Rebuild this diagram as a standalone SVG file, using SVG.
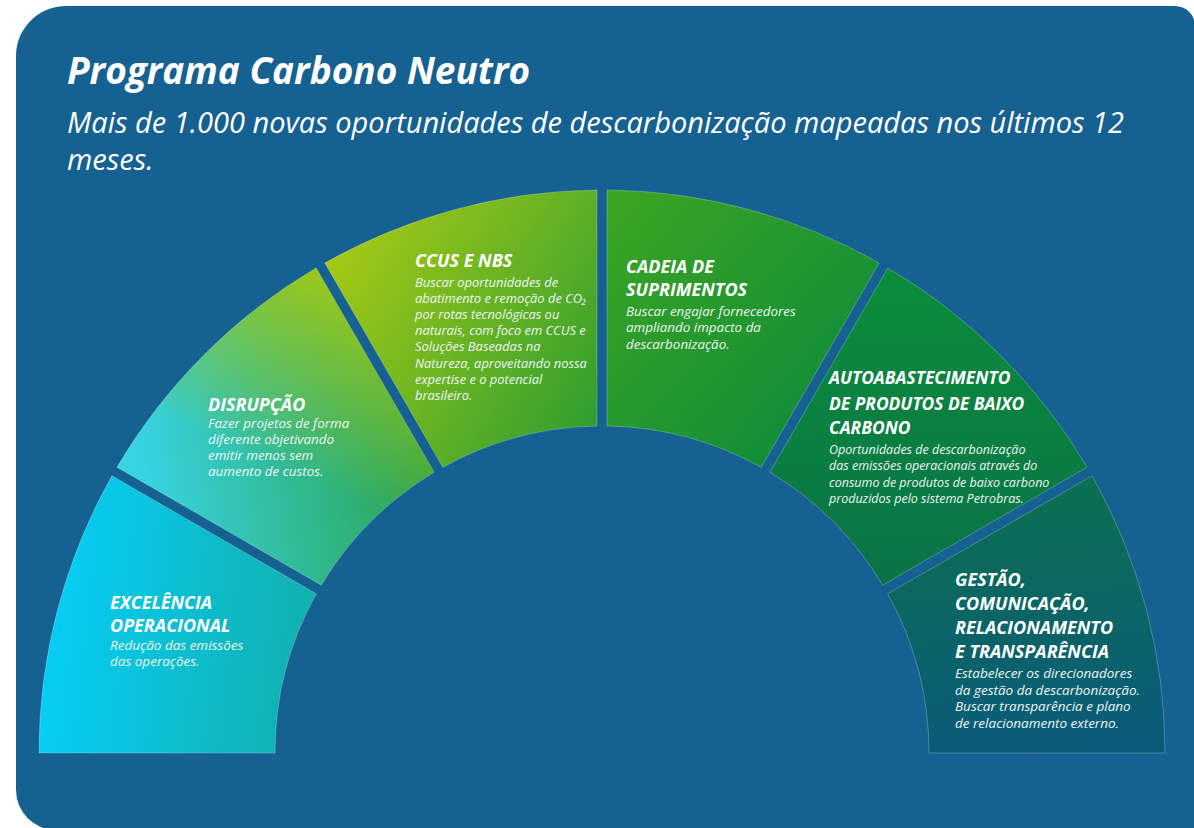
<svg xmlns="http://www.w3.org/2000/svg" width="1194" height="828" viewBox="0 0 1194 828">
<defs>
<style>
.title{font-family:"Open Sans","Liberation Sans",sans-serif;font-weight:700;font-style:italic;font-size:37px;fill:#ffffff}
.sub{font-family:"Open Sans","Liberation Sans",sans-serif;font-style:italic;font-size:29px;fill:#ffffff}
.hd{font-family:"Open Sans","Liberation Sans",sans-serif;font-weight:700;font-style:italic;font-size:18px;fill:#ffffff}
.bd{font-family:"Open Sans","Liberation Sans",sans-serif;font-style:italic;font-size:13.4px;fill:#eef7f4}
.seg{stroke:#ffffff;stroke-opacity:0.3;stroke-width:0.8}
</style>
<linearGradient id="g1" gradientUnits="userSpaceOnUse" x1="39" y1="700" x2="320" y2="730"><stop offset="0" stop-color="#06cdf6"/><stop offset="1" stop-color="#12aea8"/></linearGradient>
<linearGradient id="g2" gradientUnits="userSpaceOnUse" x1="140" y1="500" x2="430" y2="450"><stop offset="0" stop-color="#38d4e6"/><stop offset="1" stop-color="#2aa148"/></linearGradient>
<linearGradient id="g2b" gradientUnits="userSpaceOnUse" x1="320" y1="265" x2="240" y2="450"><stop offset="0" stop-color="#9ec819" stop-opacity="1"/><stop offset="1" stop-color="#9ec819" stop-opacity="0"/></linearGradient>
<linearGradient id="g3" gradientUnits="userSpaceOnUse" x1="330" y1="265" x2="597" y2="430"><stop offset="0" stop-color="#a3c816"/><stop offset="1" stop-color="#2e9e30"/></linearGradient>
<linearGradient id="g4" gradientUnits="userSpaceOnUse" x1="607" y1="200" x2="870" y2="430"><stop offset="0" stop-color="#3ca522"/><stop offset="1" stop-color="#0b893c"/></linearGradient>
<linearGradient id="g5" gradientUnits="userSpaceOnUse" x1="890" y1="270" x2="900" y2="590"><stop offset="0" stop-color="#0b8d3b"/><stop offset="1" stop-color="#0a7248"/></linearGradient>
<linearGradient id="g6" gradientUnits="userSpaceOnUse" x1="1000" y1="480" x2="1020" y2="753"><stop offset="0" stop-color="#0b7050"/><stop offset="1" stop-color="#0b5a7a"/></linearGradient>
</defs>

<path id="background" d="M66,6 H1175 A20,20 0 0 1 1195,26 V830 H56 A40,40 0 0 1 16,790 V56 A50,50 0 0 1 66,6 Z" fill="#156192"/>

<g id="header">
<text class="title" x="67" y="84">Programa Carbono Neutro</text>
<text class="sub" x="67" y="133">Mais de 1.000 novas oportunidades de descarbonização mapeadas nos últimos 12</text>
<text class="sub" x="67" y="170">meses.</text>
</g>

<g id="excelencia">
<path class="seg" d="M39,753 A563,563 0 0 1 111.93,475.83 L316.31,593.83 A327,327 0 0 0 275,753 Z" fill="url(#g1)"/>
<text class="hd" x="110" y="609">EXCELÊNCIA</text>
<text class="hd" x="110" y="632">OPERACIONAL</text>
<text class="bd" x="110" y="650" style="font-size:13.5px">Redução das emissões</text>
<text class="bd" x="110" y="666" style="font-size:13.5px">das operações.</text>
</g>

<g id="disrupcao">
<path class="seg" d="M116.93,467.17 A563,563 0 0 1 316.17,267.93 L434.17,472.31 A327,327 0 0 0 321.31,585.17 Z" fill="url(#g2)"/>
<path d="M116.93,467.17 A563,563 0 0 1 316.17,267.93 L434.17,472.31 A327,327 0 0 0 321.31,585.17 Z" fill="url(#g2b)"/>
<text class="hd" x="208" y="411">DISRUPÇÃO</text>
<text class="bd" x="208" y="428">Fazer projetos de forma</text>
<text class="bd" x="208" y="444">diferente objetivando</text>
<text class="bd" x="208" y="460">emitir menos sem</text>
<text class="bd" x="208" y="476">aumento de custos.</text>
</g>

<g id="ccus">
<path class="seg" d="M324.83,262.93 A563,563 0 0 1 597,190 L597,426 A327,327 0 0 0 442.83,467.31 Z" fill="url(#g3)"/>
<text class="hd" x="415" y="267">CCUS E NBS</text>
<g style="font-size:12.9px">
<text class="bd" x="415" y="287" style="font-size:12.9px">Buscar oportunidades de</text>
<text class="bd" x="415" y="303" style="font-size:12.9px">abatimento e remoção de CO₂</text>
<text class="bd" x="415" y="319" style="font-size:12.9px">por rotas tecnológicas ou</text>
<text class="bd" x="415" y="335" style="font-size:12.9px">naturais, com foco em CCUS e</text>
<text class="bd" x="415" y="351" style="font-size:12.9px">Soluções Baseadas na</text>
<text class="bd" x="415" y="368" style="font-size:12.9px">Natureza, aproveitando nossa</text>
<text class="bd" x="415" y="384" style="font-size:12.9px">expertise e o potencial</text>
<text class="bd" x="415" y="400" style="font-size:12.9px">brasileiro.</text>
</g>
</g>

<g id="cadeia">
<path class="seg" d="M607,190 A563,563 0 0 1 879.17,262.93 L761.17,467.31 A327,327 0 0 0 607,426 Z" fill="url(#g4)"/>
<text class="hd" x="626" y="273">CADEIA DE</text>
<text class="hd" x="626" y="296">SUPRIMENTOS</text>
<text class="bd" x="626" y="316">Buscar engajar fornecedores</text>
<text class="bd" x="626" y="332">ampliando impacto da</text>
<text class="bd" x="626" y="349">descarbonização.</text>
</g>

<g id="autoabastecimento">
<path class="seg" d="M887.83,267.93 A563,563 0 0 1 1087.07,467.17 L882.69,585.17 A327,327 0 0 0 769.83,472.31 Z" fill="url(#g5)"/>
<text class="hd" x="829" y="384" style="font-size:17.4px">AUTOABASTECIMENTO</text>
<text class="hd" x="829" y="410" style="font-size:17.4px">DE PRODUTOS DE BAIXO</text>
<text class="hd" x="829" y="434" style="font-size:17.4px">CARBONO</text>
<text class="bd" x="829" y="454" style="font-size:12.5px">Oportunidades de descarbonização</text>
<text class="bd" x="829" y="470" style="font-size:12.5px">das emissões operacionais através do</text>
<text class="bd" x="829" y="487" style="font-size:12.5px">consumo de produtos de baixo carbono</text>
<text class="bd" x="829" y="503" style="font-size:12.5px">produzidos pelo sistema  Petrobras.</text>
</g>

<g id="gestao">
<path class="seg" d="M1092.07,475.83 A563,563 0 0 1 1165,753 L929,753 A327,327 0 0 0 887.69,593.83 Z" fill="url(#g6)"/>
<text class="hd" x="955" y="586">GESTÃO,</text>
<text class="hd" x="955" y="610">COMUNICAÇÃO,</text>
<text class="hd" x="955" y="634">RELACIONAMENTO</text>
<text class="hd" x="955" y="658">E TRANSPARÊNCIA</text>
<text class="bd" x="955" y="678" style="font-size:13.5px">Estabelecer os direcionadores</text>
<text class="bd" x="955" y="695" style="font-size:13.5px">da gestão da descarbonização.</text>
<text class="bd" x="955" y="711" style="font-size:13.5px">Buscar transparência e plano</text>
<text class="bd" x="955" y="728" style="font-size:13.5px">de relacionamento externo.</text>
</g>

<g id="connectors"></g>
</svg>
